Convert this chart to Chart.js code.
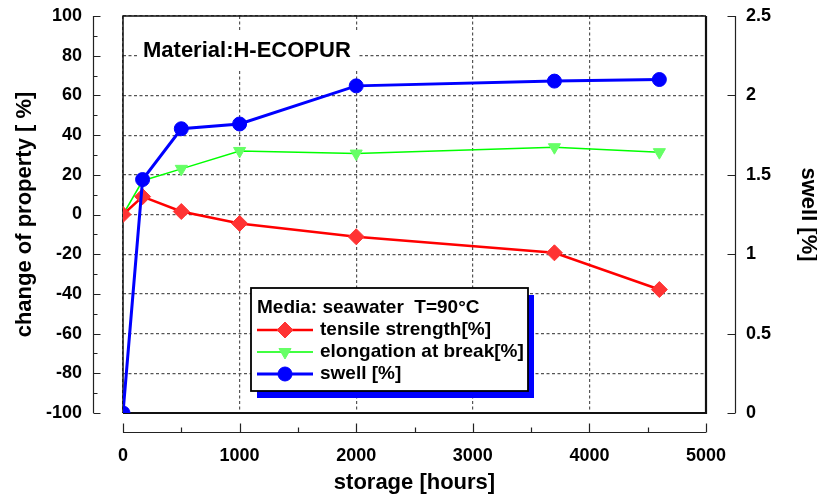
<!DOCTYPE html>
<html>
<head>
<meta charset="utf-8">
<script src="https://cdn.jsdelivr.net/npm/chart.js@4/dist/chart.umd.min.js"></script>
<style>
  html, body { margin: 0; padding: 0; background: #fff; }
  canvas { display: block; }
</style>
</head>
<body>
<canvas id="chart" width="817" height="500"></canvas>
<script>
// --- data ---
const hours = [0, 168, 500, 1000, 2000, 3700, 4600];
const tensileStrength = [0, 9, 1.5, -4.5, -11.2, -19.3, -37.8];
const elongationAtBreak = [0, 17, 23, 32, 30.7, 33.9, 31.4];
const swell = [0, 1.47, 1.79, 1.82, 2.06, 2.09, 2.10];

const materialLabel = 'Material:H-ECOPUR';
const mediaLabel = 'Media: seawater  T=90\u00B0C';
const seriesLabels = ['tensile strength[%]', 'elongation at break[%]', 'swell [%]'];

const FONT = 'Arial, "Liberation Sans", sans-serif';

function pts(ys) {
  return hours.map((h, i) => ({ x: h, y: ys[i] }));
}

// --- frame, offset axes, annotation and boxed legend ---
const decorations = {
  id: 'decorations',
  beforeDatasetsDraw(chart) {
    const { ctx, chartArea: a, scales } = chart;
    const x = scales.x, y = scales.y, y2 = scales.y2;
    ctx.save();

    // material label on white patch
    ctx.font = `bold 22px ${FONT}`;
    ctx.textBaseline = 'middle';
    const w = ctx.measureText(materialLabel).width;
    ctx.fillStyle = '#fff';
    ctx.fillRect(137, 30, w + 14, 40);
    ctx.fillStyle = '#000';
    ctx.fillText(materialLabel, 143, 51);

    // plot frame
    ctx.strokeStyle = '#111';
    ctx.lineWidth = 1.5;
    ctx.beginPath();
    ctx.moveTo(a.right, a.top); ctx.lineTo(a.left, a.top); ctx.lineTo(a.left, a.bottom);
    ctx.stroke();
    ctx.lineWidth = 2.2;
    ctx.beginPath();
    ctx.moveTo(a.left, a.bottom); ctx.lineTo(a.right, a.bottom); ctx.lineTo(a.right, a.top);
    ctx.stroke();

    ctx.lineWidth = 1.2;
    ctx.strokeStyle = '#222';
    // left axis, detached
    const lx = 93.5;
    ctx.beginPath();
    ctx.moveTo(lx, y.getPixelForValue(100)); ctx.lineTo(lx, y.getPixelForValue(-100));
    for (let v = -100; v <= 100; v += 10) {
      const py = Math.round(y.getPixelForValue(v)) + 0.5;
      ctx.moveTo(lx, py); ctx.lineTo(lx + (v % 20 === 0 ? 7 : 4), py);
    }
    ctx.stroke();
    // right axis, detached
    const rx = 735.5;
    ctx.beginPath();
    ctx.moveTo(rx, y2.getPixelForValue(0)); ctx.lineTo(rx, y2.getPixelForValue(2.5));
    for (let v = 0; v <= 2.5001; v += 0.5) {
      const py = Math.round(y2.getPixelForValue(v)) + 0.5;
      ctx.moveTo(rx, py); ctx.lineTo(rx - 8, py);
    }
    ctx.stroke();
    // bottom axis, detached
    const by = 432.5;
    ctx.beginPath();
    ctx.moveTo(x.getPixelForValue(0), by); ctx.lineTo(x.getPixelForValue(5000), by);
    for (let v = 0; v <= 5000; v += 500) {
      const px = Math.round(x.getPixelForValue(v)) + 0.5;
      ctx.moveTo(px, by); ctx.lineTo(px, by - (v % 1000 === 0 ? 9 : 5));
    }
    ctx.stroke();
    ctx.restore();
  },
  afterDatasetsDraw(chart) {
    const { ctx } = chart;
    const bx = 251, bw = 277, btop = 288, bh = 103;
    ctx.save();
    // shadow + box
    ctx.fillStyle = '#0000ff';
    ctx.fillRect(bx + 6, btop + 7, bw, bh);
    ctx.fillStyle = '#fff';
    ctx.fillRect(bx, btop, bw, bh);
    ctx.strokeStyle = '#000';
    ctx.lineWidth = 1.8;
    ctx.strokeRect(bx, btop, bw, bh);

    ctx.font = `bold 19px ${FONT}`;
    ctx.textBaseline = 'middle';
    ctx.fillStyle = '#000';
    ctx.fillText(mediaLabel, 257, 308);

    const rows = [330, 352, 374];
    chart.data.datasets.forEach((ds, i) => {
      const ry = rows[i];
      ctx.strokeStyle = ds.borderColor;
      ctx.lineWidth = ds.borderWidth;
      ctx.beginPath();
      ctx.moveTo(257, ry); ctx.lineTo(313, ry);
      ctx.stroke();
      ctx.fillStyle = ds.pointBackgroundColor;
      ctx.strokeStyle = ds.pointBorderColor;
      ctx.lineWidth = 1;
      Chart.helpers.drawPoint(ctx, {
        pointStyle: ds.pointStyle, rotation: ds.pointRotation || 0,
        radius: ds.pointRadius, borderWidth: 1
      }, 285, ry);
      ctx.fillStyle = '#000';
      ctx.fillText(ds.label, 320, ry);
    });
    ctx.restore();
  }
};

const tickFont = { family: FONT, size: 18, weight: 'bold' };
const titleFont = { family: FONT, size: 22, weight: 'bold', lineHeight: 1 };
const plain = v => String(v);
// fixed scale sizes, no extra label padding around the plot area
function fixSize(w, h) {
  return s => {
    if (w) s.width = w;
    if (h) s.height = h;
    s.paddingTop = s.paddingBottom = s.paddingLeft = s.paddingRight = 0;
  };
}

new Chart(document.getElementById('chart'), {
  type: 'line',
  data: {
    datasets: [
      {
        label: seriesLabels[0],
        data: pts(tensileStrength),
        yAxisID: 'y',
        order: 1,
        borderColor: '#ff0000',
        borderWidth: 2.5,
        pointStyle: 'rectRot',
        pointRadius: 8,
        pointBackgroundColor: '#ff3333',
        pointBorderColor: '#ff3333',
        pointBorderWidth: 1
      },
      {
        label: seriesLabels[1],
        data: pts(elongationAtBreak),
        yAxisID: 'y',
        order: 2,
        borderColor: '#00ff00',
        borderWidth: 1.5,
        pointStyle: 'triangle',
        pointRotation: 180,
        pointRadius: 7,
        pointBackgroundColor: '#66ff66',
        pointBorderColor: '#66ff66',
        pointBorderWidth: 1
      },
      {
        label: seriesLabels[2],
        data: pts(swell),
        yAxisID: 'y2',
        order: 0,
        borderColor: '#0000ff',
        borderWidth: 3,
        pointStyle: 'circle',
        pointRadius: 7,
        pointBackgroundColor: '#0000ff',
        pointBorderColor: '#0000ff',
        pointBorderWidth: 1
      }
    ]
  },
  options: {
    responsive: false,
    animation: false,
    layout: { padding: { top: 16 } },
    plugins: { legend: { display: false }, tooltip: { enabled: false } },
    scales: {
      x: {
        type: 'linear', position: 'bottom', min: 0, max: 5000,
        ticks: { stepSize: 1000, font: tickFont, color: '#000', padding: 32, maxRotation: 0, autoSkip: false, callback: plain },
        grid: { color: '#555', lineWidth: 1.2, drawTicks: false },
        border: { display: false, dash: [3, 2.5] },
        title: { display: true, text: 'storage [hours]', font: titleFont, color: '#000', padding: { top: 0, bottom: 6 } },
        afterFit: fixSize(0, 87)
      },
      y: {
        position: 'left', min: -100, max: 100,
        ticks: { stepSize: 20, font: tickFont, color: '#000', padding: 41, autoSkip: false, callback: plain },
        grid: { color: '#555', lineWidth: 1.2, drawTicks: false },
        border: { display: false, dash: [3, 2.5] },
        title: { display: true, text: 'change of property [ %]', font: titleFont, color: '#000', padding: { top: 14, bottom: 0 } },
        afterFit: fixSize(123, 0)
      },
      y2: {
        position: 'right', min: 0, max: 2.5,
        ticks: { stepSize: 0.5, font: tickFont, color: '#000', padding: 40, autoSkip: false, callback: plain },
        grid: { drawOnChartArea: false, drawTicks: false },
        border: { display: false },
        title: { display: true, text: 'swell [%]', font: titleFont, color: '#000', padding: { top: -2, bottom: 0 } },
        afterFit: fixSize(111, 0)
      }
    }
  },
  plugins: [decorations]
});
</script>
</body>
</html>
